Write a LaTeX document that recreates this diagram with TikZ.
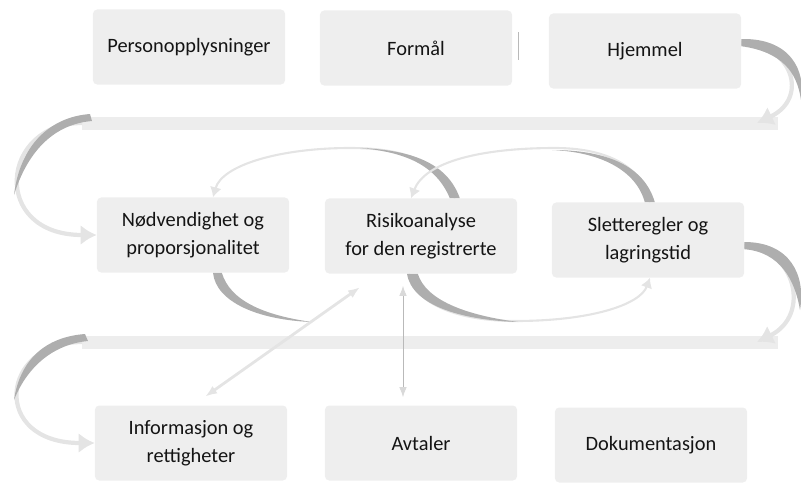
\documentclass[tikz,border=0pt]{standalone}
\usepackage{fontspec}
\setmainfont{Carlito}
\usepackage{tikz}
\usetikzlibrary{arrows.meta}
\definecolor{boxfill}{HTML}{EEEEEE}
\definecolor{arcdark}{HTML}{AEAEAE}
\definecolor{arclight}{HTML}{E4E4E4}
\definecolor{bandgray}{HTML}{EDEDED}
\definecolor{textgray}{HTML}{141414}

\begin{document}
\begin{tikzpicture}[x=0.025cm, y=-0.025cm,
  box/.style={fill=boxfill, rounded corners=3pt, minimum width=4.8cm, minimum height=1.875cm,
    align=center, text=textgray, font=\fontsize{14.5}{20}\selectfont},
  band/.style={bandgray, line width=0.325cm},
  bandarc/.style={arclight, line width=3pt, -{Latex[length=4mm, width=5mm]}},
  thinarc/.style={arclight, line width=1.5pt, -{Latex[length=2.5mm, width=3mm]}}]

\useasboundingbox (0,0) rectangle (801,482);

% boxes, row by row
\node[box] (pers) at (189,47) {Personopplysninger};
\node[box] (formaal) at (416,48) {Formål};
\node[box] (hjemmel) at (645,51) {Hjemmel};

\node[box] (noedv) at (193,235) {Nødvendighet og\\proporsjonalitet};
\node[box] (risiko) at (421,236) {Risikoanalyse\\for den registrerte};
\node[box] (slett) at (648,240) {Sletteregler og\\lagringstid};

\node[box] (info) at (191,443) {Informasjon og\\rettigheter};
\node[box] (avtaler) at (421,443) {Avtaler};
\node[box] (dok) at (651,445) {Dokumentasjon};

\draw[gray!55, line width=0.5pt] (518,32) -- (518,60);

% first band: Hjemmel -> Noedvendighet
\coordinate (b1r) at (778,123);
\coordinate (b1l) at (82,123);
\coordinate (b1tip) at (757,123);
\draw[band] (b1r) -- (b1l);
\draw[bandarc] ([yshift=0.2cm]hjemmel.east) .. controls (792,44) and (810,98) .. (b1tip);
\fill[arcdark] ([yshift=0.3cm]hjemmel.east) .. controls (790,38) and (806,70) .. (801,100)
  .. controls (797,72) and (782,52) .. ([yshift=0.12cm]hjemmel.east) -- cycle;
\draw[bandarc] (b1l) .. controls (0,123) and (-10,235) .. (noedv.west);
\fill[arcdark] (90,114) .. controls (50,117) and (20,145) .. (14,195)
  .. controls (28,150) and (55,124) .. (92,121) -- cycle;

% second band: Sletteregler -> Informasjon
\coordinate (b2r) at (778,342);
\coordinate (b2l) at (82,342);
\coordinate (b2tip) at (757,342);
\draw[band] (b2r) -- (b2l);
\draw[bandarc] ([yshift=-0.15cm]slett.east) .. controls (795,248) and (812,315) .. (b2tip);
\fill[arcdark] ([yshift=-0.05cm]slett.east) .. controls (790,242) and (806,275) .. (800,310)
  .. controls (795,280) and (780,252) .. ([yshift=-0.23cm]slett.east) -- cycle;
\draw[bandarc] (b2l) .. controls (0,342) and (-10,443) .. (info.west);
\fill[arcdark] (85,334) .. controls (45,337) and (20,360) .. (14,400)
  .. controls (28,365) and (55,344) .. (88,341) -- cycle;

% arcs round the middle row
\fill[arcdark] ([xshift=0.5cm]noedv.south) .. controls (216,302) and (258,320) .. (312,322)
  .. controls (262,315) and (230,300) .. ([xshift=0.72cm]noedv.south) -- cycle;

\draw[thinarc] ([xshift=0.85cm]risiko.north) .. controls (442,162) and (405,148) .. (350,148)
  .. controls (280,148) and (222,165) .. ([xshift=0.5cm]noedv.north);
\fill[arcdark] ([xshift=0.72cm]risiko.north) .. controls (436,165) and (405,152) .. (360,148)
  .. controls (410,150) and (447,162) .. ([xshift=0.97cm]risiko.north) -- cycle;

\draw[thinarc] ([xshift=0.05cm]slett.north) .. controls (642,165) and (605,148) .. (555,148)
  .. controls (480,148) and (425,162) .. ([xshift=-0.25cm]risiko.north);
\fill[arcdark] ([xshift=-0.08cm]slett.north) .. controls (636,170) and (600,152) .. (552,150)
  .. controls (605,150) and (644,165) .. ([xshift=0.17cm]slett.north) -- cycle;

\draw[thinarc] ([xshift=-0.3cm]risiko.south) .. controls (415,305) and (460,321) .. (515,321)
  .. controls (590,321) and (640,305) .. ([xshift=0.05cm]slett.south);
\fill[arcdark] ([xshift=-0.35cm]risiko.south) .. controls (412,305) and (460,320) .. (518,322)
  .. controls (465,315) and (426,300) .. ([xshift=-0.08cm]risiko.south) -- cycle;

% double arrows to the bottom row
\draw[{Latex[length=2.5mm, color=gray!30]}-{Latex[length=2.5mm, color=gray!30]}, gray!55,
  line width=0.6pt, shorten <=0.3cm, shorten >=0.2cm]
  ([xshift=-0.45cm]risiko.south) -- ([xshift=-0.45cm]avtaler.north);
\draw[{Latex[length=3mm]}-{Latex[length=3mm]}, arclight, line width=2pt,
  shorten <=0.37cm, shorten >=0.58cm]
  ([xshift=0.05cm]info.north) -- ([xshift=-1.05cm]risiko.south);

\end{tikzpicture}
\end{document}
